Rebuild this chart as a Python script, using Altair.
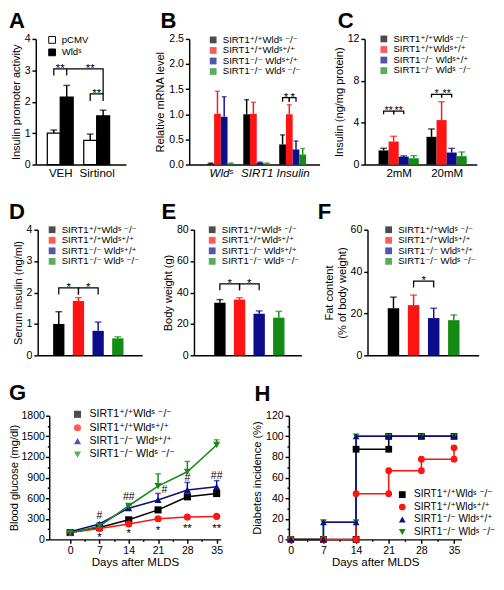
import altair as alt
import pandas as pd

FONT = "Liberation Sans, Arial, DejaVu Sans, sans-serif"

# ---------------- shared genotype legend ----------------
GENOS = ["SIRT1⁺/⁺Wldˢ ⁻/⁻", "SIRT1⁺/⁺Wldˢ⁺/⁺", "SIRT1⁻/⁻ Wldˢ⁺/⁺", "SIRT1⁻/⁻ Wldˢ ⁻/⁻"]
GENO_COLORS = ["#000000", "#ff1414", "#0c0c8c", "#148c14"]
G1, G2, G3, G4 = GENOS

# ---------------- A ----------------
A_CATS = ["VEH", "Sirtinol"]
A_GROUPS = ["pCMV", "Wldˢ"]
A_PCMV_MEAN = [1.00, 0.77]
A_PCMV_ERR = [0.10, 0.20]
A_WLDS_MEAN = [2.15, 1.55]
A_WLDS_ERR = [0.37, 0.18]
A_BRACKETS = [
    ("a1", "VEH", "pCMV", 2.84), ("a1", "VEH", "pCMV", 3.05), ("a1", "VEH", "Wldˢ", 3.05), ("a1", "VEH", "Wldˢ", 2.84),
    ("a2", "VEH", "Wldˢ", 3.05), ("a2", "Sirtinol", "Wldˢ", 3.05), ("a2", "Sirtinol", "Wldˢ", 2.25),
    ("a3", "Sirtinol", "pCMV", 2.02), ("a3", "Sirtinol", "pCMV", 2.25), ("a3", "Sirtinol", "Wldˢ", 2.25), ("a3", "Sirtinol", "Wldˢ", 2.02),
]
# note text, category, left bar, right bar (text centred between them), bracket top
A_NOTES = [("**", "VEH", "pCMV", "Wldˢ", 3.05), ("**", "Sirtinol", "pCMV", "pCMV", 3.05),
           ("**", "Sirtinol", "pCMV", "Wldˢ", 2.25)]

# ---------------- B ----------------
B_CATS = ["Wldˢ", "SIRT1", "Insulin"]
B_G1_MEAN = [0.02, 1.00, 0.40]
B_G1_ERR = [0.01, 0.29, 0.19]
B_G2_MEAN = [1.01, 1.01, 1.00]
B_G2_ERR = [0.45, 0.23, 0.19]
B_G3_MEAN = [0.95, 0.04, 0.30]
B_G3_ERR = [0.40, 0.01, 0.17]
B_G4_MEAN = [0.02, 0.02, 0.20]
B_G4_ERR = [0.01, 0.01, 0.12]
B_BRACKETS = [
    ("b1", "Insulin", G1, 1.25), ("b1", "Insulin", G1, 1.33), ("b1", "Insulin", G2, 1.33), ("b1", "Insulin", G2, 1.25),
    ("b2", "Insulin", G2, 1.25), ("b2", "Insulin", G2, 1.33), ("b2", "Insulin", G3, 1.33), ("b2", "Insulin", G3, 1.25),
]
B_NOTES = [("*", "Insulin", G1, G2, 1.33), ("*", "Insulin", G2, G3, 1.33)]

# ---------------- C ----------------
C_CATS = ["2mM", "20mM"]
C_G1_MEAN = [1.35, 2.65]
C_G1_ERR = [0.20, 0.75]
C_G2_MEAN = [2.20, 4.25]
C_G2_ERR = [0.50, 1.75]
C_G3_MEAN = [0.75, 1.15]
C_G3_ERR = [0.08, 0.40]
C_G4_MEAN = [0.60, 0.80]
C_G4_ERR = [0.25, 0.40]
C_BRACKETS = [
    ("c1", "2mM", G1, 4.8), ("c1", "2mM", G1, 5.1), ("c1", "2mM", G2, 5.1), ("c1", "2mM", G2, 4.8),
    ("c2", "2mM", G2, 4.8), ("c2", "2mM", G2, 5.1), ("c2", "2mM", G3, 5.1), ("c2", "2mM", G3, 4.8),
    ("c3", "20mM", G1, 6.4), ("c3", "20mM", G1, 6.7), ("c3", "20mM", G2, 6.7), ("c3", "20mM", G2, 6.4),
    ("c4", "20mM", G2, 6.4), ("c4", "20mM", G2, 6.7), ("c4", "20mM", G3, 6.7), ("c4", "20mM", G3, 6.4),
]
C_NOTES = [("**", "2mM", G1, G2, 5.1), ("**", "2mM", G2, G3, 5.1),
           ("*", "20mM", G1, G2, 6.7), ("**", "20mM", G2, G3, 6.7)]

# ---------------- D, E, F ----------------
D_MEAN = [1.00, 1.73, 0.78, 0.54]
D_ERR = [0.39, 0.11, 0.28, 0.05]
D_BRACKETS = [
    ("d1", "all", G1, 1.94), ("d1", "all", G1, 2.15), ("d1", "all", G2, 2.15), ("d1", "all", G2, 1.94),
    ("d2", "all", G2, 1.94), ("d2", "all", G2, 2.15), ("d2", "all", G3, 2.15), ("d2", "all", G3, 1.94),
]
D_NOTES = [("*", "all", G1, G2, 2.15), ("*", "all", G2, G3, 2.15)]

E_MEAN = [33.5, 35.5, 26.5, 24.0]
E_ERR = [2.0, 1.2, 1.8, 4.0]
E_BRACKETS = [
    ("e1", "all", G1, 41.4), ("e1", "all", G1, 45.5), ("e1", "all", G2, 45.5), ("e1", "all", G2, 41.4),
    ("e2", "all", G2, 41.4), ("e2", "all", G2, 45.5), ("e2", "all", G3, 45.5), ("e2", "all", G3, 41.4),
]
E_NOTES = [("*", "all", G1, G2, 45.5), ("*", "all", G2, G3, 45.5)]

F_MEAN = [22.5, 24.0, 17.8, 16.8]
F_ERR = [5.3, 4.8, 4.7, 2.5]
F_BRACKETS = [("f1", "all", G2, 32.4), ("f1", "all", G2, 35.5), ("f1", "all", G3, 35.5), ("f1", "all", G3, 32.4)]
F_NOTES = [("*", "all", G2, G3, 35.5)]

# ---------------- G ----------------
G_DAYS = [0, 7, 14, 21, 28, 35]
G_G1 = [100, 173, 285, 430, 620, 668]
G_G1_ERR = [10, 15, 20, 25, 25, 30]
G_G2 = [100, 160, 225, 300, 325, 335]
G_G2_ERR = [10, 10, 15, 15, 15, 15]
G_G3 = [112, 225, 455, 575, 720, 765]
G_G3_ERR = [15, 20, 40, 95, 110, 90]
G_G4 = [95, 190, 490, 775, 985, 1375]
G_G4_ERR = [10, 15, 30, 180, 150, 75]
G_HASH_DAY = [7, 14, 22.5, 28, 35]
G_HASH_Y = [360, 624, 729, 905, 934]
G_HASH_TXT = ["#", "##", "#", "#", "##"]
G_STAR_DAY = [7, 14, 21, 28, 35]
G_STAR_Y = [55, 124, 165, 192, 192]
G_STAR_TXT = ["*", "*", "*", "**", "**"]

# ---------------- H ----------------
H_G1_DAYS = [0, 7, 14, 14, 21, 21, 28, 35]
H_G1_VALS = [0, 0, 0, 87.5, 87.5, 100, 100, 100]
H_G2_DAYS = [0, 7, 14, 14, 21, 21, 28, 28, 35, 35]
H_G2_VALS = [0, 0, 0, 44.4, 44.4, 66.7, 66.7, 77.8, 77.8, 88.9]
H_G3_DAYS = [0, 7, 7, 14, 14, 21, 28, 35]
H_G3_VALS = [0, 0, 16.7, 16.7, 100, 100, 100, 100]
H_G4_DAYS = [0, 7, 7, 14, 14, 21, 28, 35]
H_G4_VALS = [0, 0, 16.7, 16.7, 100, 100, 100, 100]


# ---------------- helpers ----------------
def bar_frames(cats, groups, means, errs, member_step, bw, brackets, notes):
    n = len(groups)
    pos = {}
    rows = []
    for mi, (g, m, e) in enumerate(zip(groups, means, errs)):
        for ci, (c, mv, ev) in enumerate(zip(cats, m, e)):
            xc = ci + (mi - (n - 1) / 2) * member_step
            pos[(c, g)] = xc
            rows.append({"cat": c, "grp": g, "xc": xc, "x1": xc - bw / 2, "x2": xc + bw / 2,
                         "mean": mv, "hi": mv + ev})
    br = pd.DataFrame([{"bid": b, "x": pos[(c, g)], "y": y, "ord": i}
                       for i, (b, c, g, y) in enumerate(brackets)])
    nt = pd.DataFrame([{"t": t, "x": (pos[(c, g1)] + pos[(c, g2)]) / 2, "y": y}
                       for t, c, g1, g2, y in notes])
    return pd.DataFrame(rows), br, nt


def title(letter, dx, off):
    return alt.TitleParams(letter, anchor="start", frame="group", dx=dx, offset=off, fontSize=23,
                           fontWeight="bold", font=FONT, baseline="alphabetic", color="black")


def bar_panel(frames, cats, groups, fills, y_title, y_dom, y_vals, y_fmt, w, h, x_dom, cap,
              leg_x, leg_y, letter, letter_dx, letter_off, xlabels=True, italic=False,
              bar_stroke=None, err_color=None, leg_stroke=None, note_size=12):
    df, br_df, nt_df = frames
    xs = alt.Scale(domain=x_dom, nice=False, zero=False)
    label_expr = "[" + ",".join("'" + c + "'" for c in cats) + "][datum.value]"
    xax = alt.Axis(title=None, ticks=False, labels=xlabels, values=list(range(len(cats))),
                   labelExpr=label_expr, labelAngle=0, labelFontSize=12, labelPadding=4,
                   labelFontStyle="italic" if italic else "normal")
    ys = alt.Scale(domain=y_dom, nice=False, zero=False)
    yax = alt.Axis(title=y_title, values=y_vals, format=y_fmt)
    leg = alt.Legend(orient="none", legendX=leg_x, legendY=leg_y, title=None, symbolType="square",
                     symbolSize=50, rowPadding=1, padding=0, labelOffset=5, labelFontSize=10,
                     labelLimit=300, symbolStrokeWidth=1 if leg_stroke else 0,
                     symbolStrokeColor=leg_stroke or "black")
    color = alt.Color("grp:N", scale=alt.Scale(domain=groups, range=fills), legend=leg)
    bar_kw = {"stroke": bar_stroke, "strokeWidth": 1.3} if bar_stroke else {"strokeWidth": 0}
    bars = alt.Chart(df).mark_bar(**bar_kw).encode(
        x=alt.X("x1:Q", scale=xs, axis=xax), x2="x2:Q",
        y=alt.Y("mean:Q", scale=ys, axis=yax, stack=None), y2=alt.datum(0), color=color)
    ecol = alt.value(err_color) if err_color else color
    ebar = alt.Chart(df).mark_rule(strokeWidth=1.5).encode(
        x=alt.X("xc:Q", scale=xs, axis=xax), y=alt.Y("mean:Q", scale=ys, axis=yax), y2="hi:Q", color=ecol)
    ecap = alt.Chart(df).mark_tick(orient="horizontal", size=cap, thickness=1.5).encode(
        x=alt.X("xc:Q", scale=xs, axis=xax), y=alt.Y("hi:Q", scale=ys, axis=yax), color=ecol)
    brl = alt.Chart(br_df).mark_line(color="black", strokeWidth=1.3).encode(
        x=alt.X("x:Q", scale=xs, axis=xax), y=alt.Y("y:Q", scale=ys, axis=yax),
        detail="bid:N", order="ord:Q")
    ntl = alt.Chart(nt_df).mark_text(dy=3, fontSize=note_size, font=FONT, baseline="alphabetic",
                                     color="black").encode(
        x=alt.X("x:Q", scale=xs, axis=xax), y=alt.Y("y:Q", scale=ys, axis=yax), text="t:N")
    return alt.layer(ebar, ecap, bars, brl, ntl).properties(
        width=w, height=h, title=title(letter, letter_dx, letter_off))


def spacer(w, h=1):
    return alt.Chart(pd.DataFrame({"s": [0]})).mark_point(opacity=0, size=1).encode(
        x=alt.value(0), y=alt.value(0)).properties(width=w, height=h)


def row(items):
    return alt.hconcat(*items, spacing=10, bounds="flush").resolve_scale(
        color="independent", shape="independent").resolve_legend(color="independent", shape="independent")


# ---------------- bar panels ----------------
panel_a = bar_panel(
    bar_frames(A_CATS, A_GROUPS, [A_PCMV_MEAN, A_WLDS_MEAN], [A_PCMV_ERR, A_WLDS_ERR], 0.355, 0.355,
               A_BRACKETS, A_NOTES),
    A_CATS, A_GROUPS, ["white", "black"], "Insulin promoter activity", [0, 4], [0, 1, 2, 3, 4], "d",
    94, 131, [-0.671, 1.803], 7, 12, -4, "A", -28, -18,
    bar_stroke="black", err_color="black", leg_stroke="black")

panel_b = bar_panel(
    bar_frames(B_CATS, GENOS, [B_G1_MEAN, B_G2_MEAN, B_G3_MEAN, B_G4_MEAN],
               [B_G1_ERR, B_G2_ERR, B_G3_ERR, B_G4_ERR], 0.187, 0.187, B_BRACKETS, B_NOTES),
    B_CATS, GENOS, GENO_COLORS, "Relative mRNA level", [0, 2.5], [0, 0.5, 1.0, 1.5, 2.0, 2.5], ".1f",
    136, 131, [-0.88, 2.75], 5, 20, -4, "B", -30, -18, italic=True)

panel_c = bar_panel(
    bar_frames(C_CATS, GENOS, [C_G1_MEAN, C_G2_MEAN, C_G3_MEAN, C_G4_MEAN],
               [C_G1_ERR, C_G2_ERR, C_G3_ERR, C_G4_ERR], 0.21, 0.21, C_BRACKETS, C_NOTES),
    C_CATS, GENOS, GENO_COLORS, "Insulin (ng/mg protein)", [0, 12], [0, 4, 8, 12], "d",
    117, 131, [-0.71, 1.63], 7, 15, -5, "C", -28, -18, note_size=11)

panel_d = bar_panel(
    bar_frames(["all"], GENOS, [[v] for v in D_MEAN], [[v] for v in D_ERR], 1.0, 0.575,
               D_BRACKETS, D_NOTES),
    ["all"], GENOS, GENO_COLORS, "Serum insulin (ng/ml)", [0, 4], [0, 1, 2, 3, 4], "d",
    109, 131, [-2.57, 2.74], 7, 10, -5, "D", -30, -18, xlabels=False)

panel_e = bar_panel(
    bar_frames(["all"], GENOS, [[v] for v in E_MEAN], [[v] for v in E_ERR], 1.0, 0.58,
               E_BRACKETS, E_NOTES),
    ["all"], GENOS, GENO_COLORS, "Body weight (g)", [0, 80], [0, 20, 40, 60, 80], "d",
    112, 131, [-2.82, 2.65], 7, 14, -5, "E", -34, -18, xlabels=False)

panel_f = bar_panel(
    bar_frames(["all"], GENOS, [[v] for v in F_MEAN], [[v] for v in F_ERR], 1.0, 0.57,
               F_BRACKETS, F_NOTES),
    ["all"], GENOS, GENO_COLORS, ["Fat content", "(% of body weight)"], [0, 60], [0, 20, 40, 60], "d",
    116, 131, [-2.79, 2.74], 7, 17, -5, "F", -52, -18, xlabels=False)

# ---------------- G ----------------
g_rows = []
for gname, vals, errs in zip(GENOS, [G_G1, G_G2, G_G3, G_G4], [G_G1_ERR, G_G2_ERR, G_G3_ERR, G_G4_ERR]):
    for d, v, e in zip(G_DAYS, vals, errs):
        g_rows.append({"day": d, "geno": gname, "val": v, "hi": v + e})
g_df = pd.DataFrame(g_rows)
hash_df = pd.DataFrame({"day": G_HASH_DAY, "y": G_HASH_Y, "t": G_HASH_TXT})
star_df = pd.DataFrame({"day": G_STAR_DAY, "y": G_STAR_Y, "t": G_STAR_TXT})

SHAPES = ["square", "circle", "triangle-up", "triangle-down"]
DAY_TICKS = [i * 3.5 for i in range(11)]


def day_axis():
    return alt.Axis(title="Days after MLDS", values=DAY_TICKS, titleFontSize=12, titlePadding=1,
                    labelExpr="datum.value % 7 == 0 ? datum.label : ''",
                    tickSize={"condition": {"test": "datum.value % 7 == 0", "value": 4}, "value": 2})


def line_legend(x, y, size, font):
    return alt.Legend(orient="none", legendX=x, legendY=y, title=None, symbolSize=size, rowPadding=2,
                      padding=0, labelOffset=7, labelFontSize=font, labelLimit=300, symbolStrokeWidth=0)


gxs = alt.Scale(domain=[-5, 36], nice=False, zero=False)
gxa = day_axis()
gys = alt.Scale(domain=[0, 1800], nice=False)
gya = alt.Axis(title="Blood glucose (mg/dl)", values=list(range(0, 1801, 150)), format="d",
               labelExpr="datum.value % 300 == 0 ? datum.label : ''", labelPadding=1, titlePadding=2,
               tickSize={"condition": {"test": "datum.value % 300 == 0", "value": 4}, "value": 2})
g_leg = line_legend(24, -7, 55, 11)
gcol = alt.Color("geno:N", scale=alt.Scale(domain=GENOS, range=GENO_COLORS), legend=g_leg)
gshp = alt.Shape("geno:N", scale=alt.Scale(domain=GENOS, range=SHAPES), legend=g_leg)
GX = alt.X("day:Q", scale=gxs, axis=gxa)
g_line = alt.Chart(g_df).mark_line(strokeWidth=1.6).encode(
    x=GX, y=alt.Y("val:Q", scale=gys, axis=gya), color=gcol)
g_err = alt.Chart(g_df).mark_rule(strokeWidth=1.5).encode(
    x=GX, y=alt.Y("val:Q", scale=gys, axis=gya), y2="hi:Q", color=gcol)
g_cap = alt.Chart(g_df).mark_tick(orient="horizontal", size=6, thickness=1.5).encode(
    x=GX, y=alt.Y("hi:Q", scale=gys, axis=gya), color=gcol)
g_pts = alt.Chart(g_df).mark_point(filled=True, size=55, opacity=1).encode(
    x=GX, y=alt.Y("val:Q", scale=gys, axis=gya), color=gcol, shape=gshp)
g_hash = alt.Chart(hash_df).mark_text(fontSize=11, font=FONT, dy=4, baseline="alphabetic", color="black").encode(
    x=GX, y=alt.Y("y:Q", scale=gys, axis=gya), text="t:N")
g_star = alt.Chart(star_df).mark_text(fontSize=12, font=FONT, dy=6, baseline="alphabetic", color="black").encode(
    x=GX, y=alt.Y("y:Q", scale=gys, axis=gya), text="t:N")
panel_g = alt.layer(g_err, g_cap, g_line, g_pts, g_hash, g_star).properties(
    width=179, height=129, title=title("G", -42, -14))

# ---------------- H ----------------
h_rows = []
for gname, days, vals in [(G1, H_G1_DAYS, H_G1_VALS), (G2, H_G2_DAYS, H_G2_VALS),
                          (G4, H_G4_DAYS, H_G4_VALS), (G3, H_G3_DAYS, H_G3_VALS)]:
    for i, (d, v) in enumerate(zip(days, vals)):
        h_rows.append({"day": d, "geno": gname, "val": v, "ord": i})
h_df = pd.DataFrame(h_rows)
hxs = alt.Scale(domain=[-0.4, 36.6], nice=False, zero=False)
hys = alt.Scale(domain=[0, 120], nice=False)
hya = alt.Axis(title="Diabetes incidence (%)", values=list(range(0, 121, 10)), format="d",
               labelExpr="datum.value % 20 == 0 ? datum.label : ''",
               tickSize={"condition": {"test": "datum.value % 20 == 0", "value": 4}, "value": 2})
h_leg = line_legend(113, 77, 50, 10.5)
hcol = alt.Color("geno:N", scale=alt.Scale(domain=GENOS, range=GENO_COLORS), legend=h_leg)
hshp = alt.Shape("geno:N", scale=alt.Scale(domain=GENOS, range=SHAPES), legend=h_leg)
HX = alt.X("day:Q", scale=hxs, axis=gxa)
h_line = alt.Chart(h_df).mark_line(strokeWidth=1.6).encode(
    x=HX, y=alt.Y("val:Q", scale=hys, axis=hya), color=hcol, order="ord:Q")
h_pts = alt.Chart(h_df).mark_point(filled=True, size=50, opacity=1).encode(
    x=HX, y=alt.Y("val:Q", scale=hys, axis=hya), color=hcol, shape=hshp)
panel_h = alt.layer(h_line, h_pts).properties(width=180, height=129, title=title("H", -36, -14))

# ---------------- layout ----------------
row1 = row([spacer(10), panel_a, spacer(46), panel_b, spacer(27), panel_c])
row2 = row([spacer(12), panel_d, spacer(34), panel_e, spacer(49), panel_f])
row3 = row([spacer(24), panel_g, spacer(51), panel_h])

chart = alt.vconcat(row1, row2, row3, spacing=24).resolve_scale(
    color="independent", shape="independent").resolve_legend(
    color="independent", shape="independent").properties(
    padding={"left": 0, "top": -9, "right": 0, "bottom": 0}).configure(
    font=FONT).configure_view(stroke=None).configure_axis(
    grid=False, domainColor="black", tickColor="black", labelColor="black", titleColor="black",
    labelFont=FONT, titleFont=FONT, labelFontSize=11, titleFontSize=11.5, titleFontWeight="normal",
    domainWidth=1.5, tickWidth=1.5, tickSize=4, labelPadding=2, titlePadding=3).configure_legend(
    labelFont=FONT, labelColor="black").configure_title(font=FONT, color="black")

chart.save("out.html", embed_options={"renderer": "svg", "actions": False})
